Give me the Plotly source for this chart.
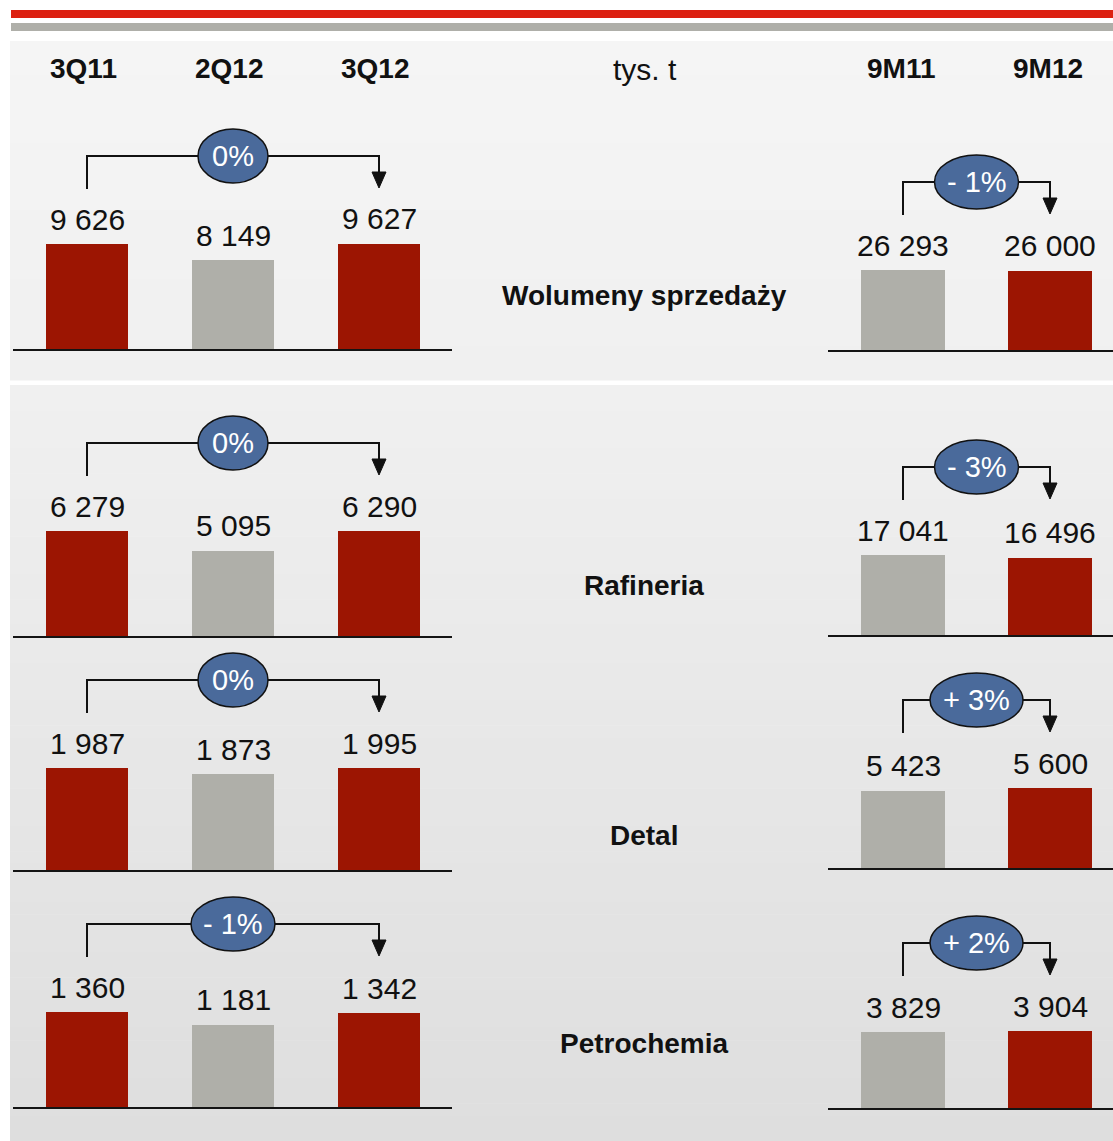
import plotly.graph_objects as go

# ---------------- data ----------------
periods_q = ["3Q11", "2Q12", "3Q12"]
periods_9m = ["9M11", "9M12"]
segments = ["Wolumeny sprzedaży", "Rafineria", "Detal", "Petrochemia"]
unit_label = "tys. t"

q_wolumeny = [9626, 8149, 9627]
q_rafineria = [6279, 5095, 6290]
q_detal = [1987, 1873, 1995]
q_petrochemia = [1360, 1181, 1342]

m_wolumeny = [26293, 26000]
m_rafineria = [17041, 16496]
m_detal = [5423, 5600]
m_petrochemia = [3829, 3904]

quarterly = [q_wolumeny, q_rafineria, q_detal, q_petrochemia]
nine_months = [m_wolumeny, m_rafineria, m_detal, m_petrochemia]

# ---------------- style / layout ----------------
W, H = 1113, 1141
FONT = "Liberation Sans Narrow, Arial Narrow, Liberation Sans, Arial, sans-serif"
RED = "#9c1502"
GREY = "#afafa9"
BLUE = "#4a6a9b"
q_colors = [RED, GREY, RED]
m_colors = [GREY, RED]

VAL_SIZE = 30
HEAD_SIZE = 28
PCT_SIZE = 29

base_left = [349, 636, 870, 1107]
base_right = [350, 635, 868, 1108]
maxpx_left = [105, 105, 102, 95]
maxpx_right = [80, 80, 80, 77]
seg_label_y = [296, 585, 835, 1043]
DOM_H = 235

left_x = (13, 452, 87, 146, 82)    # x0, x1, first centre, spacing, bar width (px)
right_x = (828, 1113, 903, 147, 84)


def py(p):
    return 1 - p / H


def fmt(v):
    return f"{v:,}".replace(",", " ")


def pct_text(a, b):
    p = round((b / a - 1) * 100)
    if p == 0:
        return f"{p}%"
    return f"{'+' if p > 0 else '-'} {abs(p)}%"


def ellipse_w(t):
    if not t.startswith(("+", "-")):
        return 70
    return 93 if t.startswith("+") else 84


fig = go.Figure()
shapes = []
annotations = []

# background panels with soft vertical gradients
def grad(y0, y1, c0, c1, n):
    for i in range(n):
        t = i / (n - 1)
        c = tuple(round(c0[k] + (c1[k] - c0[k]) * t) for k in range(3))
        a = y0 + (y1 - y0) * i / n
        b = y0 + (y1 - y0) * (i + 1) / n
        shapes.append(dict(type="rect", xref="paper", yref="paper", layer="below",
                           x0=10 / W, x1=1, y0=py(b) - 0.0005, y1=py(a),
                           fillcolor=f"rgb{c}", line=dict(width=0)))

grad(41, 380, (245, 245, 245), (240, 240, 240), 20)
grad(385, 1141, (240, 240, 240), (222, 222, 222), 60)

# top stripes
shapes.append(dict(type="rect", xref="paper", yref="paper", layer="below",
                   x0=11 / W, x1=1, y0=py(18), y1=py(10), fillcolor="#dc2010", line=dict(width=0)))
shapes.append(dict(type="rect", xref="paper", yref="paper", layer="below",
                   x0=11 / W, x1=1, y0=py(31), y1=py(23), fillcolor="#afafa9", line=dict(width=0)))

layout_axes = {}

for r in range(4):
    for s, (vals, cats, cols, bases, maxpx, xg) in enumerate([
        (quarterly[r], periods_q, q_colors, base_left, maxpx_left, left_x),
        (nine_months[r], periods_9m, m_colors, base_right, maxpx_right, right_x),
    ]):
        k = 2 * r + s + 1
        xa, ya = f"x{k}", f"y{k}"
        x0p, x1p, c0, sp, bw = xg
        base = bases[r]
        vmax = max(vals)
        xs = list(range(len(vals)))
        fig.add_trace(go.Bar(x=xs, y=vals, marker=dict(color=cols, line=dict(width=0)),
                             width=bw / sp, xaxis=xa, yaxis=ya, hoverinfo="skip",
                             showlegend=False))
        layout_axes[f"xaxis{k}"] = dict(
            domain=[x0p / W, x1p / W], range=[(x0p - c0) / sp, (x1p - c0) / sp],
            anchor=ya, showline=True, linecolor="#141414", linewidth=2,
            showgrid=False, zeroline=False, showticklabels=False, ticks="", fixedrange=True)
        layout_axes[f"yaxis{k}"] = dict(
            domain=[py(base), py(base - DOM_H)], range=[0, vmax * DOM_H / maxpx[r]],
            anchor=xa, visible=False, fixedrange=True)

        # value labels
        for i, v in enumerate(vals):
            annotations.append(dict(x=i, y=v, xref=xa, yref=ya, text=fmt(v), showarrow=False,
                                    yanchor="middle", yshift=25,
                                    font=dict(family=FONT, size=VAL_SIZE, color="#111")))

        # bracket with arrow
        last = len(vals) - 1
        shapes.append(dict(type="path", xref=xa, yref=ya, ysizemode="pixel", yanchor=vmax,
                           path=f"M 0,55 L 0,88 L {last},88 L {last},70",
                           line=dict(color="#111", width=2)))
        shapes.append(dict(type="path", xref=xa, yref=ya, xsizemode="pixel", xanchor=last,
                           ysizemode="pixel", yanchor=vmax,
                           path="M -7,72 L 7,72 L 0,56 Z",
                           fillcolor="#111", line=dict(color="#111", width=1)))
        txt = pct_text(vals[0], vals[-1])
        ew = ellipse_w(txt)
        shapes.append(dict(type="circle", xref=xa, yref=ya, xsizemode="pixel", xanchor=last / 2,
                           ysizemode="pixel", yanchor=vmax,
                           x0=-ew / 2, x1=ew / 2, y0=88 - 27, y1=88 + 27,
                           fillcolor=BLUE, line=dict(color="#111", width=1.5)))
        annotations.append(dict(x=last / 2, y=vmax, xref=xa, yref=ya, text=txt, showarrow=False,
                                yanchor="middle", yshift=88,
                                font=dict(family=FONT, size=PCT_SIZE, color="white")))

    # segment label
    annotations.append(dict(x=644 / W, y=py(seg_label_y[r]), xref="paper", yref="paper",
                            text=segments[r], showarrow=False, yanchor="middle",
                            font=dict(family=FONT, size=HEAD_SIZE, color="#111", weight="bold")))

# column headers
for i, c in enumerate(periods_q):
    annotations.append(dict(x=i, y=py(68), xref="x1", yref="paper", text=c, showarrow=False,
                            xshift=-4, yanchor="middle",
                            font=dict(family=FONT, size=HEAD_SIZE, color="#111", weight="bold")))
for i, c in enumerate(periods_9m):
    annotations.append(dict(x=i, y=py(68), xref="x2", yref="paper", text=c, showarrow=False,
                            xshift=-2, yanchor="middle",
                            font=dict(family=FONT, size=HEAD_SIZE, color="#111", weight="bold")))
annotations.append(dict(x=645 / W, y=py(70), xref="paper", yref="paper", text=unit_label,
                        showarrow=False, yanchor="middle",
                        font=dict(family=FONT, size=VAL_SIZE, color="#111")))

fig.update_layout(
    width=W, height=H, margin=dict(l=0, r=0, t=0, b=0),
    paper_bgcolor="white", plot_bgcolor="rgba(0,0,0,0)",
    shapes=shapes, annotations=annotations, showlegend=False, bargap=0,
    **layout_axes,
)

fig.write_html("out.html", config={"displayModeBar": False},
               post_script="document.body.style.margin='0px';")
